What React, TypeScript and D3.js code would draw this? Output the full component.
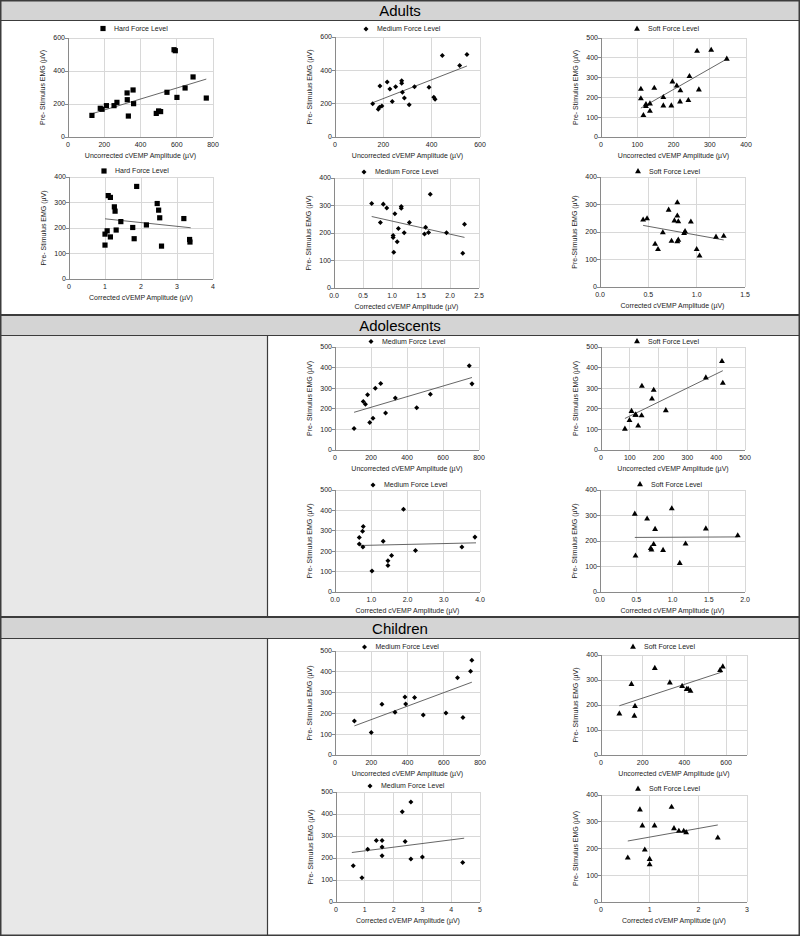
import React from 'react';
import * as d3 from 'd3';

type Pt = [number, number];

// ---- Adults ----
const adultsHardUncorrected: Pt[] = [
  [132, 131], [178, 174], [188, 168], [212, 190], [254, 190], [270, 210], [326, 267],
  [327, 226], [333, 127], [359, 285], [362, 202], [487, 143], [500, 158], [511, 154],
  [546, 271], [585, 529], [592, 523], [601, 240], [646, 297], [690, 364], [763, 236],
];
const adultsHardUncorrectedTrend: Pt[] = [[132, 141], [763, 351]];

const adultsMediumUncorrected: Pt[] = [
  [156, 199], [186, 306], [179, 167], [184, 179], [194, 186], [216, 330], [227, 288],
  [237, 213], [251, 302], [276, 338], [276, 322], [279, 268], [287, 234], [307, 193],
  [329, 302], [389, 298], [409, 238], [414, 226], [444, 489], [516, 429], [546, 495],
];
const adultsMediumUncorrectedTrend: Pt[] = [[158, 207], [546, 426]];

const adultsSoftUncorrected: Pt[] = [
  [110, 242], [110, 194], [117, 109], [124, 165], [124, 155], [135, 168], [135, 131],
  [147, 247], [172, 200], [172, 158], [194, 158], [197, 279], [209, 258], [219, 234],
  [218, 178], [241, 185], [244, 306], [265, 434], [270, 239], [304, 439], [347, 394],
];
const adultsSoftUncorrectedTrend: Pt[] = [[110, 146], [347, 394]];

const adultsHardCorrected: Pt[] = [
  [1.0, 133], [1.0, 176], [1.06, 189], [1.09, 327], [1.15, 320], [1.15, 165], [1.26, 283],
  [1.28, 266], [1.31, 192], [1.44, 225], [1.77, 202], [1.81, 158], [1.88, 363], [2.15, 212],
  [2.45, 296], [2.49, 270], [2.52, 240], [2.57, 129], [3.19, 237], [3.35, 155], [3.36, 145],
];
const adultsHardCorrectedTrend: Pt[] = [[1.0, 236], [3.38, 201]];

const adultsMediumCorrected: Pt[] = [
  [0.65, 307], [0.8, 238], [0.85, 305], [0.91, 291], [1.02, 184], [1.02, 191], [1.03, 130],
  [1.05, 270], [1.09, 168], [1.11, 216], [1.16, 296], [1.16, 290], [1.21, 201], [1.3, 238],
  [1.66, 341], [1.58, 221], [1.56, 196], [1.63, 202], [1.94, 201], [2.22, 126], [2.25, 232],
];
const adultsMediumCorrectedTrend: Pt[] = [[0.65, 260], [2.25, 184]];

const adultsSoftCorrected: Pt[] = [
  [0.446, 244], [0.487, 249], [0.57, 156], [0.6, 137], [0.65, 198], [0.71, 280], [0.74, 167],
  [0.77, 241], [0.8, 307], [0.8, 259], [0.8, 165], [0.81, 171], [0.81, 238], [0.94, 237],
  [0.87, 195], [0.88, 202], [1.0, 137], [1.03, 113], [1.2, 182], [1.28, 185],
];
const adultsSoftCorrectedTrend: Pt[] = [[0.446, 224], [1.28, 171]];

// ---- Adolescents ----
const adolMediumUncorrected: Pt[] = [
  [106, 104], [157, 235], [169, 222], [181, 268], [193, 133], [211, 154], [224, 300],
  [254, 323], [281, 180], [335, 252], [454, 205], [530, 271], [746, 409], [761, 321],
];
const adolMediumUncorrectedTrend: Pt[] = [[106, 183], [761, 352]];

const adolSoftUncorrected: Pt[] = [
  [83, 102], [99, 144], [106, 188], [119, 170], [121, 170], [129, 117], [142, 310],
  [141, 167], [177, 248], [183, 291], [225, 192], [364, 351], [420, 430], [423, 325],
];
const adolSoftUncorrectedTrend: Pt[] = [[83, 153], [423, 385]];

const adolMediumCorrected: Pt[] = [
  [0.67, 235], [0.67, 267], [0.76, 298], [0.78, 321], [0.77, 221], [1.02, 103], [1.33, 249],
  [1.46, 153], [1.46, 130], [1.56, 179], [1.89, 406], [2.22, 204], [3.5, 220], [3.86, 269],
];
const adolMediumCorrectedTrend: Pt[] = [[0.69, 228], [3.89, 241]];

const adolSoftCorrected: Pt[] = [
  [0.48, 306], [0.49, 142], [0.65, 287], [0.7, 171], [0.71, 165], [0.74, 187], [0.76, 246],
  [0.87, 164], [0.99, 327], [1.1, 113], [1.18, 189], [1.46, 248], [1.9, 221],
];
const adolSoftCorrectedTrend: Pt[] = [[0.48, 214], [1.9, 216]];

// ---- Children ----
const childMediumUncorrected: Pt[] = [
  [107, 163], [200, 108], [259, 244], [331, 206], [386, 279], [390, 245], [439, 277],
  [487, 192], [612, 202], [676, 371], [706, 180], [748, 403], [755, 455],
];
const childMediumUncorrectedTrend: Pt[] = [[107, 140], [755, 350]];

const childSoftUncorrected: Pt[] = [
  [88, 165], [146, 283], [163, 195], [160, 156], [258, 347], [330, 289], [389, 275],
  [411, 263], [418, 263], [429, 256], [571, 339], [584, 353],
];
const childSoftUncorrectedTrend: Pt[] = [[88, 197], [584, 333]];

const childMediumCorrected: Pt[] = [
  [0.6, 165], [0.9, 110], [1.1, 240], [1.4, 280], [1.6, 280], [1.6, 250], [1.6, 210],
  [2.3, 410], [2.4, 275], [2.6, 455], [2.6, 195], [3.0, 205], [4.4, 180],
];
const childMediumCorrectedTrend: Pt[] = [[0.55, 225], [4.45, 290]];

const childSoftCorrected: Pt[] = [
  [0.55, 165], [0.8, 345], [0.85, 285], [0.9, 195], [1.0, 160], [1.0, 140], [1.1, 285],
  [1.45, 355], [1.5, 275], [1.6, 265], [1.7, 265], [1.75, 260], [2.4, 240],
];
const childSoftCorrectedTrend: Pt[] = [[0.55, 228], [2.4, 288]];

// ---- tick values ----
const ticks0to800 = [0, 200, 400, 600, 800];
const ticks0to600 = [0, 200, 400, 600];
const ticks0to400by100 = [0, 100, 200, 300, 400];
const ticks0to500by100 = [0, 100, 200, 300, 400, 500];
const ticks0to4 = [0, 1, 2, 3, 4];
const ticks0to5 = [0, 1, 2, 3, 4, 5];
const ticks0to3 = [0, 1, 2, 3];
const ticks0to2_5 = [0, 0.5, 1, 1.5, 2, 2.5];
const ticks0to1_5 = [0, 0.5, 1, 1.5];
const ticks0to2 = [0, 0.5, 1, 1.5, 2];

const sections = ['Adults', 'Adolescents', 'Children'];
const forceLabels = { hard: 'Hard Force Level', medium: 'Medium Force Level', soft: 'Soft Force Level' };
const uncorrectedLabel = 'Uncorrected cVEMP Amplitude (µV)';
const correctedLabel = 'Corrected cVEMP Amplitude (µV)';
const yLabelSpaced = 'Pre- Stimulus EMG (µV)';

const FONT = '"Liberation Sans", Arial, Helvetica, sans-serif';

type Marker = 'hard' | 'medium' | 'soft';

interface PanelSpec {
  left: number; top: number; width: number; height: number;
  xMax: number; xTicks: number[]; xFmt: string;
  yMax: number; yTicks: number[];
  data: Pt[]; trend: Pt[]; marker: Marker;
  legend: [number, number];
  xLabel: string; yLabel: string;
}

const fI = 'd';
const f1 = '.1f';

const panels: PanelSpec[] = [
  { left: 68, top: 38, width: 145, height: 99, xMax: 800, xTicks: ticks0to800, xFmt: fI, yMax: 600, yTicks: ticks0to600,
    data: adultsHardUncorrected, trend: adultsHardUncorrectedTrend, marker: 'hard', legend: [103, 28.5], xLabel: uncorrectedLabel, yLabel: yLabelSpaced },
  { left: 335, top: 37, width: 145, height: 100, xMax: 600, xTicks: ticks0to600, xFmt: fI, yMax: 600, yTicks: ticks0to600,
    data: adultsMediumUncorrected, trend: adultsMediumUncorrectedTrend, marker: 'medium', legend: [366, 29], xLabel: uncorrectedLabel, yLabel: yLabelSpaced },
  { left: 601, top: 38, width: 145, height: 99, xMax: 400, xTicks: ticks0to400by100, xFmt: fI, yMax: 500, yTicks: ticks0to500by100,
    data: adultsSoftUncorrected, trend: adultsSoftUncorrectedTrend, marker: 'soft', legend: [637, 29], xLabel: uncorrectedLabel, yLabel: yLabelSpaced },
  { left: 69, top: 177, width: 144, height: 102, xMax: 4, xTicks: ticks0to4, xFmt: fI, yMax: 400, yTicks: ticks0to400by100,
    data: adultsHardCorrected, trend: adultsHardCorrectedTrend, marker: 'hard', legend: [104, 171], xLabel: correctedLabel, yLabel: yLabelSpaced },
  { left: 334, top: 178, width: 145, height: 110, xMax: 2.5, xTicks: ticks0to2_5, xFmt: f1, yMax: 400, yTicks: ticks0to400by100,
    data: adultsMediumCorrected, trend: adultsMediumCorrectedTrend, marker: 'medium', legend: [364, 172], xLabel: correctedLabel, yLabel: yLabelSpaced },
  { left: 600, top: 177, width: 145, height: 110, xMax: 1.5, xTicks: ticks0to1_5, xFmt: f1, yMax: 400, yTicks: ticks0to400by100,
    data: adultsSoftCorrected, trend: adultsSoftCorrectedTrend, marker: 'soft', legend: [638, 171.5], xLabel: correctedLabel, yLabel: 'Pre-Stimulus EMG (µV)' },
  { left: 335, top: 347, width: 144, height: 103, xMax: 800, xTicks: ticks0to800, xFmt: fI, yMax: 500, yTicks: ticks0to500by100,
    data: adolMediumUncorrected, trend: adolMediumUncorrectedTrend, marker: 'medium', legend: [371, 341.5], xLabel: uncorrectedLabel, yLabel: yLabelSpaced },
  { left: 601, top: 347, width: 144, height: 103, xMax: 500, xTicks: ticks0to500by100, xFmt: fI, yMax: 500, yTicks: ticks0to500by100,
    data: adolSoftUncorrected, trend: adolSoftUncorrectedTrend, marker: 'soft', legend: [637, 341.5], xLabel: uncorrectedLabel, yLabel: yLabelSpaced },
  { left: 335, top: 490, width: 145, height: 102, xMax: 4, xTicks: ticks0to4, xFmt: f1, yMax: 500, yTicks: ticks0to500by100,
    data: adolMediumCorrected, trend: adolMediumCorrectedTrend, marker: 'medium', legend: [373, 485], xLabel: correctedLabel, yLabel: yLabelSpaced },
  { left: 600, top: 490, width: 145, height: 102, xMax: 2, xTicks: ticks0to2, xFmt: f1, yMax: 400, yTicks: ticks0to400by100,
    data: adolSoftCorrected, trend: adolSoftCorrectedTrend, marker: 'soft', legend: [640, 484.5], xLabel: correctedLabel, yLabel: yLabelSpaced },
  { left: 335, top: 651, width: 145, height: 104, xMax: 800, xTicks: ticks0to800, xFmt: fI, yMax: 500, yTicks: ticks0to500by100,
    data: childMediumUncorrected, trend: childMediumUncorrectedTrend, marker: 'medium', legend: [364.5, 647], xLabel: uncorrectedLabel, yLabel: yLabelSpaced },
  { left: 601, top: 655, width: 146, height: 100, xMax: 700, xTicks: ticks0to600, xFmt: fI, yMax: 400, yTicks: ticks0to400by100,
    data: childSoftUncorrected, trend: childSoftUncorrectedTrend, marker: 'soft', legend: [633, 647], xLabel: uncorrectedLabel, yLabel: yLabelSpaced },
  { left: 336, top: 792, width: 144, height: 110, xMax: 5, xTicks: ticks0to5, xFmt: fI, yMax: 500, yTicks: ticks0to500by100,
    data: childMediumCorrected, trend: childMediumCorrectedTrend, marker: 'medium', legend: [370, 786], xLabel: correctedLabel, yLabel: yLabelSpaced },
  { left: 601, top: 795, width: 146, height: 107, xMax: 3, xTicks: ticks0to3, xFmt: fI, yMax: 400, yTicks: ticks0to400by100,
    data: childSoftCorrected, trend: childSoftCorrectedTrend, marker: 'soft', legend: [638, 789], xLabel: correctedLabel, yLabel: yLabelSpaced },
];

const symbolPaths: Record<Marker, string> = {
  hard: d3.symbol().type(d3.symbolSquare).size(27)() as string,
  medium: d3.symbol().type(d3.symbolDiamond2).size(16)() as string,
  soft: d3.symbol().type(d3.symbolTriangle).size(15)() as string,
};

const Panel: React.FC<{ p: PanelSpec }> = ({ p }) => {
  const x = d3.scaleLinear().domain([0, p.xMax]).range([p.left, p.left + p.width]);
  const y = d3.scaleLinear().domain([0, p.yMax]).range([p.top + p.height, p.top]);
  const fmt = d3.format(p.xFmt);
  const xGrid = Array.from(new Set([...p.xTicks, p.xMax])).filter((v) => v > 0);
  const yGrid = p.yTicks.filter((v) => v > 0);
  const line = d3.line<Pt>().x((d) => x(d[0])).y((d) => y(d[1]));
  const sym = symbolPaths[p.marker];
  const cx = p.left + p.width / 2;
  const cy = p.top + p.height / 2;

  return (
    <g fontFamily={FONT} fontSize={7} fill="#222">
      {xGrid.map((v) => (
        <line key={'xg' + v} x1={x(v)} x2={x(v)} y1={y(0)} y2={y(p.yMax)} stroke="#d8d8d8" strokeWidth={1} shapeRendering="crispEdges" />
      ))}
      {yGrid.map((v) => (
        <line key={'yg' + v} x1={x(0)} x2={x(p.xMax)} y1={y(v)} y2={y(v)} stroke="#d8d8d8" strokeWidth={1} shapeRendering="crispEdges" />
      ))}
      <line x1={x(0)} x2={x(0)} y1={y(0)} y2={y(p.yMax)} stroke="#8a8a8a" shapeRendering="crispEdges" />
      <line x1={x(0)} x2={x(p.xMax)} y1={y(0)} y2={y(0)} stroke="#8a8a8a" shapeRendering="crispEdges" />
      {p.yTicks.map((v) => (
        <g key={'yt' + v}>
          <line x1={x(0) - 3} x2={x(0)} y1={y(v)} y2={y(v)} stroke="#8a8a8a" shapeRendering="crispEdges" />
          <text x={x(0) - 3} y={y(v)} dy="0.35em" textAnchor="end">{v}</text>
        </g>
      ))}
      {p.xTicks.map((v) => (
        <text key={'xt' + v} x={x(v)} y={y(0) + 9.5} textAnchor="middle">{fmt(v)}</text>
      ))}
      <path d={line(p.trend) || ''} stroke="#555" strokeWidth={0.9} fill="none" />
      {p.data.map((d, i) => (
        <path key={i} d={sym} transform={`translate(${x(d[0])},${y(d[1])})`} fill="#000" />
      ))}
      <path d={sym} transform={`translate(${p.legend[0]},${p.legend[1]})`} fill="#000" />
      <text x={p.legend[0] + 11} y={p.legend[1]} dy="0.35em">{forceLabels[p.marker]}</text>
      <text x={cx} y={y(0) + 21} textAnchor="middle">{p.xLabel}</text>
      <text transform={`translate(${p.left - 23},${cy}) rotate(-90)`} textAnchor="middle">{p.yLabel}</text>
    </g>
  );
};

const bands = [
  { label: sections[0], top: 1, bottom: 20 },
  { label: sections[1], top: 316, bottom: 335 },
  { label: sections[2], top: 618, bottom: 638 },
];

const App: React.FC = () => {
  const W = 800;
  const H = 936;
  const dark = '#3c3c3c';
  return (
    <svg width={W} height={H} style={{ position: 'absolute', left: 0, top: 0, background: '#fff' }}>
      <rect x={0} y={0} width={W} height={H} fill="#fff" />
      {bands.map((b) => (
        <g key={b.label}>
          <rect x={1} y={b.top} width={W - 2} height={b.bottom - b.top} fill="#d4d4d4" />
          <text x={W / 2} y={b.bottom - 4} textAnchor="middle" fontFamily={FONT} fontSize={15} fill="#000">{b.label}</text>
        </g>
      ))}
      <rect x={1} y={336} width={266} height={281} fill="#e8e8e8" />
      <rect x={1} y={639} width={266} height={296} fill="#e8e8e8" />
      <rect x={0.75} y={0.75} width={W - 1.5} height={H - 1.5} fill="none" stroke={dark} strokeWidth={1.5} />
      <line x1={0} x2={W} y1={20.5} y2={20.5} stroke={dark} strokeWidth={1.2} />
      <line x1={0} x2={W} y1={315} y2={315} stroke={dark} strokeWidth={2} />
      <line x1={0} x2={W} y1={335.5} y2={335.5} stroke={dark} strokeWidth={1.2} />
      <line x1={0} x2={W} y1={617} y2={617} stroke={dark} strokeWidth={2} />
      <line x1={0} x2={W} y1={638.5} y2={638.5} stroke={dark} strokeWidth={1.2} />
      <line x1={267.5} x2={267.5} y1={336} y2={617} stroke={dark} strokeWidth={1.2} />
      <line x1={267.5} x2={267.5} y1={639} y2={936} stroke={dark} strokeWidth={1.2} />
      {panels.map((p, i) => (
        <Panel key={i} p={p} />
      ))}
    </svg>
  );
};

export default App;
